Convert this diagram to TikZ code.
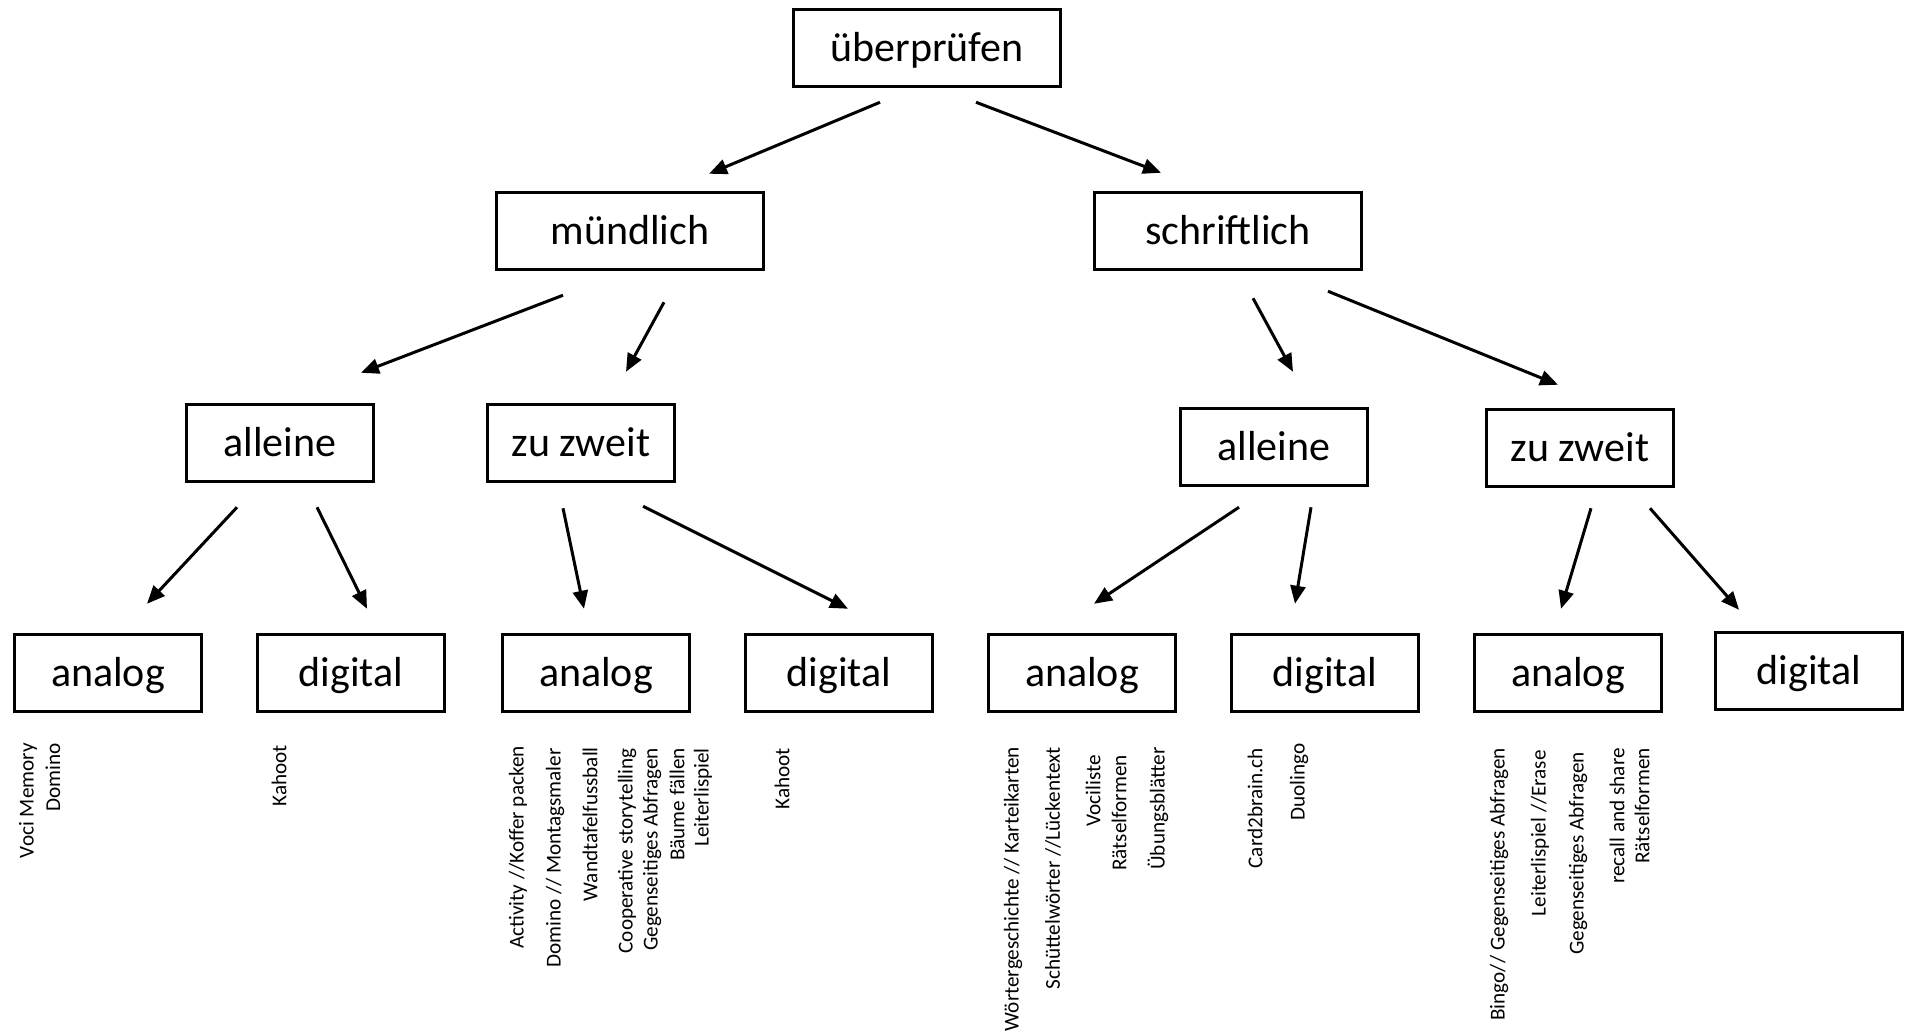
\documentclass[tikz,border=0pt]{standalone}
\usepackage{fontspec}
\setmainfont{Carlito}
\usetikzlibrary{arrows.meta}

\begin{document}
\begin{tikzpicture}[x=1pt, y=-1pt,
  box/.style={draw, line width=3.5pt, minimum width=187pt, minimum height=77pt,
    inner sep=0pt, text height=31pt, text depth=5pt, font=\fontsize{42}{50}\selectfont},
  bigbox/.style={box, minimum width=267pt},
  arr/.style={line width=3pt, -{Triangle[length=18pt,width=15pt]}},
  item/.style={rotate=90, anchor=east, inner sep=0pt, font=\fontsize{21.2}{25}\selectfont}]

  \useasboundingbox (0,0) rectangle (1910,1034);

  % Levels
  \def\yA{48}
  \def\yB{231}
  \def\yD{673}

  % Root and first level
  \node[bigbox] (top) at (927,\yA) {überprüfen};
  \node[bigbox] (mund) at (630,\yB) {mündlich};
  \node[bigbox] (schrift) at (1228,\yB) {schriftlich};

  % Second level
  \node[box] (alL) at (280,443) {alleine};
  \node[box] (zwL) at (581,443) {zu zweit};
  \node[box] (alR) at (1274,447) {alleine};
  \node[box] (zwR) at (1580,448) {zu zweit};

  % Leaves
  \node[box] (anA) at (108,\yD) {analog};
  \node[box] (diA) at (351,\yD) {digital};
  \node[box] (anB) at (596,\yD) {analog};
  \node[box] (diB) at (839,\yD) {digital};
  \node[box] (anC) at (1082,\yD) {analog};
  \node[box] (diC) at (1325,\yD) {digital};
  \node[box] (anD) at (1568,\yD) {analog};
  \node[box] (diD) at (1809,671) {digital};

  % Arrows (they stop short of the boxes)
  \draw[arr] ([shift={(-47,14)}]top.south) -- ([shift={(79,-17)}]mund.north);
  \draw[arr] ([shift={(49,14)}]top.south) -- ([shift={(-67,-18)}]schrift.north);

  \draw[arr] ([shift={(-67,24)}]mund.south) -- ([shift={(81,-30)}]alL.north);
  \draw[arr] ([shift={(34,31)}]mund.south) -- ([shift={(45,-31)}]zwL.north);
  \draw[arr] ([shift={(25,27)}]schrift.south) -- ([shift={(19,-35)}]alR.north);
  \draw[arr] ([shift={(100,20)}]schrift.south) -- ([shift={(-22,-23)}]zwR.north);

  \draw[arr] ([shift={(-43,24)}]alL.south) -- ([shift={(39,-29)}]anA.north);
  \draw[arr] ([shift={(37,24)}]alL.south) -- ([shift={(16,-24)}]diA.north);
  \draw[arr] ([shift={(-18,25)}]zwL.south) -- ([shift={(-12,-24)}]anB.north);
  \draw[arr] ([shift={(62,23)}]zwL.south) -- ([shift={(9,-24)}]diB.north);
  \draw[arr] ([shift={(-35,20)}]alR.south) -- ([shift={(12,-29)}]anC.north);
  \draw[arr] ([shift={(37,20)}]alR.south) -- ([shift={(-30,-29)}]diC.north);
  \draw[arr] ([shift={(11,20)}]zwR.south) -- ([shift={(-7,-24)}]anD.north);
  \draw[arr] ([shift={(70,20)}]zwR.south) -- ([shift={(-70,-21)}]diD.north);

  % Examples under the leaves (rotated, ending at the top)
  \foreach \x/\y/\t [count=\i] in {
      28/743/{Voci Memory}, 53/743/{Domino},
      279/745/{Kahoot},
      518/746/{Activity //Koffer packen}, 555/748/{Domino // Montagsmaler},
      590/747/{Wandtafelfussball}, 627/748/{Cooperative storytelling},
      652/748/{Gegenseitiges Abfragen}, 677/748/{Bäume fällen},
      703/748/{Leiterlispiel},
      782/748/{Kahoot},
      1013/747/{Wörtergeschichte // Karteikarten},
      1053/747/{Schüttelwörter //Lückentext},
      1093/755/{Vociliste}, 1119/755/{Rätselformen}, 1158/747/{Übungsblätter},
      1255/748/{Card2brain.ch}, 1299/743/{Duolingo},
      1499/748/{Bingo// Gegenseitiges Abfragen}, 1540/750/{Leiterlispiel //Erase},
      1578/752/{Gegenseitiges Abfragen}, 1617/748/{recall and share},
      1642/748/{Rätselformen}}
    \node[item] (ex\i) at (\x,\y) {\t};

\end{tikzpicture}
\end{document}
